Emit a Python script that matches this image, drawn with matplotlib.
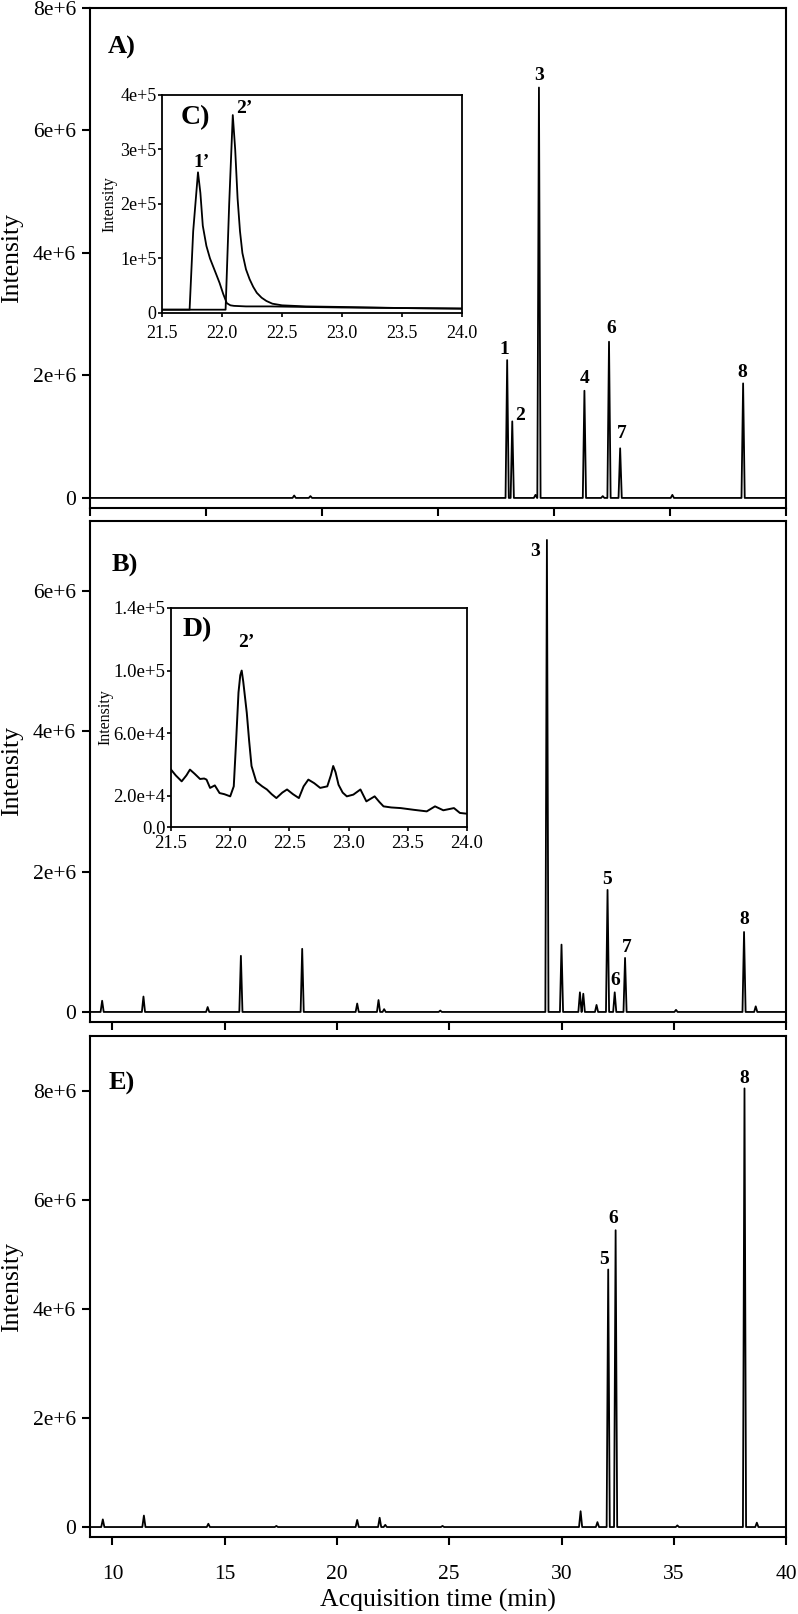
import matplotlib.pyplot as plt

plt.rcParams['font.family'] = ['Liberation Serif', 'DejaVu Serif']

# peak tables (time in min, intensity)
a_time = [18.8, 19.5, 27.98, 28.2, 29.2, 29.35, 31.31, 32.1, 32.37, 32.85, 35.1, 38.15]
a_height = [0.04e6, 0.03e6, 2.25e6, 1.25e6, 0.05e6, 6.70e6, 1.75e6, 0.03e6, 2.55e6, 0.81e6, 0.05e6, 1.87e6]

b_time = [9.54, 11.38, 14.24, 15.72, 18.45, 20.9, 21.85, 22.1, 24.6, 29.35, 30.0, 30.82, 30.97,
          31.56, 32.05, 32.37, 32.83, 35.1, 38.13, 38.65]
b_height = [0.16e6, 0.22e6, 0.07e6, 0.80e6, 0.90e6, 0.12e6, 0.17e6, 0.04e6, 0.02e6, 6.73e6, 0.96e6,
            0.28e6, 0.26e6, 0.10e6, 1.74e6, 0.28e6, 0.77e6, 0.03e6, 1.14e6, 0.08e6]

e_time = [9.57, 11.4, 14.27, 17.3, 20.9, 21.9, 22.15, 24.7, 30.85, 31.6, 32.08, 32.41, 35.16, 38.15, 38.7]
e_height = [0.14e6, 0.21e6, 0.06e6, 0.02e6, 0.13e6, 0.17e6, 0.04e6, 0.02e6, 0.29e6, 0.09e6, 4.72e6,
            5.44e6, 0.03e6, 8.04e6, 0.08e6]

# peak labels: (text, index into peak table, offset of label centre in pixels)
a_labels = [('1', 2, (-3, 11)), ('2', 3, (8, 6)), ('3', 5, (0, 12)), ('4', 6, (0, 12)),
            ('6', 8, (2, 13)), ('7', 9, (2, 15)), ('8', 11, (-1, 11))]
b_labels = [('3', 9, (-12, -12)), ('5', 14, (0, 10)), ('6', 15, (1, 12)),
            ('7', 16, (2, 10)), ('8', 18, (0, 12))]
e_labels = [('5', 10, (-4, 10)), ('6', 11, (-2, 12)), ('8', 13, (0, 10))]

# inset C: 1' and 2' traces
c1_time = [21.5, 21.73, 21.76, 21.80, 21.82, 21.84, 21.87, 21.90, 21.925, 21.95, 21.98, 22.01,
           22.04, 22.07, 22.10, 22.2, 22.4, 22.7, 23.0, 23.5, 24.0]
c1_int = [0.06e5, 0.06e5, 1.5e5, 2.58e5, 2.2e5, 1.6e5, 1.23e5, 1.0e5, 0.86e5, 0.72e5, 0.55e5, 0.35e5,
          0.18e5, 0.14e5, 0.13e5, 0.12e5, 0.12e5, 0.11e5, 0.10e5, 0.09e5, 0.08e5]
c2_time = [21.5, 22.03, 22.06, 22.09, 22.11, 22.13, 22.15, 22.17, 22.20, 22.23, 22.26, 22.29,
           22.33, 22.37, 22.42, 22.5, 22.7, 23.0, 23.5, 24.0]
c2_int = [0.06e5, 0.06e5, 2.0e5, 3.63e5, 3.0e5, 2.1e5, 1.5e5, 1.1e5, 0.8e5, 0.62e5, 0.48e5, 0.37e5,
          0.28e5, 0.22e5, 0.17e5, 0.14e5, 0.12e5, 0.11e5, 0.09e5, 0.08e5]

# inset D trace
d_time = [21.5, 21.54, 21.59, 21.63, 21.66, 21.70, 21.745, 21.78, 21.80, 21.83, 21.87, 21.91, 21.95,
          22.0, 22.03, 22.05, 22.07, 22.085, 22.097, 22.11, 22.125, 22.14, 22.16, 22.18, 22.22, 22.27,
          22.31, 22.35, 22.39, 22.44, 22.48, 22.53, 22.58, 22.62, 22.66, 22.71, 22.76, 22.82, 22.85,
          22.87, 22.89, 22.915, 22.95, 22.985, 23.04, 23.10, 23.15, 23.22, 23.26, 23.295, 23.36, 23.44,
          23.55, 23.66, 23.73, 23.80, 23.89, 23.94, 24.0]
d_int = [3.67e4, 3.3e4, 2.92e4, 3.3e4, 3.67e4, 3.4e4, 3.07e4, 3.1e4, 3.03e4, 2.5e4, 2.66e4, 2.17e4, 2.1e4,
         1.96e4, 2.6e4, 5.5e4, 8.6e4, 9.7e4, 1.0e5, 9.3e4, 8.3e4, 7.3e4, 5.5e4, 3.9e4, 2.9e4, 2.6e4,
         2.4e4, 2.1e4, 1.85e4, 2.2e4, 2.4e4, 2.1e4, 1.85e4, 2.6e4, 3.03e4, 2.8e4, 2.5e4, 2.6e4, 3.3e4,
         3.9e4, 3.5e4, 2.7e4, 2.2e4, 1.96e4, 2.07e4, 2.4e4, 1.64e4, 1.96e4, 1.6e4, 1.32e4, 1.25e4, 1.21e4,
         1.1e4, 1.0e4, 1.32e4, 1.07e4, 1.21e4, 0.9e4, 0.85e4]

main_ticks = [10, 15, 20, 25, 30, 35, 40]
a_yticks = [0, 2e6, 4e6, 6e6, 8e6]
a_ylabels = ['0', '2e+6', '4e+6', '6e+6', '8e+6']
b_yticks = [0, 2e6, 4e6, 6e6]
b_ylabels = ['0', '2e+6', '4e+6', '6e+6']
inset_xticks = [21.5, 22.0, 22.5, 23.0, 23.5, 24.0]
inset_xlabels = ['21.5', '22.0', '22.5', '23.0', '23.5', '24.0']
c_yticks = [0, 1e5, 2e5, 3e5, 4e5]
c_ylabels = ['0', '1e+5', '2e+5', '3e+5', '4e+5']
d_yticks = [0, 2e4, 6e4, 1e5, 1.4e5]
d_ylabels = ['0.0', '2.0e+4', '6.0e+4', '1.0e+5', '1.4e+5']


def trace(times, heights, start, stop, half=0.07):
    #turns a peak table into a spiky chromatogram line
    x = [start]
    y = [0]
    for t, h in zip(times, heights):
        x += [t - half, t, t + half]
        y += [0, h, 0]
    x.append(stop)
    y.append(0)
    return x, y


def style_main(ax):
    for s in ax.spines.values():
        s.set_linewidth(1.5)
    ax.tick_params(direction='out', length=6, width=1.5, labelsize=15.5, pad=4,
                   top=False, right=False)
    ax.set_ylabel('Intensity', fontsize=18.5)
    ax.yaxis.set_label_coords(-0.096, 0.5)


def style_inset(ax, yticks, ylabels, label_x, size, xpad):
    for s in ax.spines.values():
        s.set_linewidth(1.3)
    ax.set_xlim(21.5, 24.0)
    ax.set_xticks(inset_xticks)
    ax.set_xticklabels(inset_xlabels)
    ax.set_yticks(yticks)
    ax.set_yticklabels(ylabels)
    ax.tick_params(direction='out', length=3, width=1.2, labelsize=size, pad=1,
                   top=False, right=False)
    ax.tick_params(axis='x', pad=xpad)
    ax.set_ylabel('Intensity', fontsize=11.5)
    ax.yaxis.set_label_coords(label_x, 0.5)


def add_labels(ax, times, heights, labels, size=14):
    for text, i, off in labels:
        ax.annotate(text, xy=(times[i], heights[i]), xytext=off, textcoords='offset pixels',
                    ha='center', va='center', fontsize=size, fontweight='bold')


fig = plt.figure(figsize=(7.98, 16.14), dpi=100)

# panel A
axA = fig.add_axes([0.1128, 0.6853, 0.8722, 0.3098])
x, y = trace(a_time, a_height, 10, 40)
axA.plot(x, y, color='black', lw=1.3)
axA.set_xlim(10, 40)
axA.set_ylim(-0.163e6, 8e6)
axA.set_xticks(main_ticks)
axA.set_xticklabels([])
axA.set_yticks(a_yticks)
axA.set_yticklabels(a_ylabels)
style_main(axA)
add_labels(axA, a_time, a_height, a_labels)
axA.text(0.046, 0.92, 'A)', transform=axA.transAxes, ha='center', va='center',
         fontsize=19, fontweight='bold')

# panel B
axB = fig.add_axes([0.1128, 0.3668, 0.8722, 0.3104])
x, y = trace(b_time, b_height, 9, 40)
axB.plot(x, y, color='black', lw=1.3)
axB.set_xlim(9, 40)
axB.set_ylim(-0.143e6, 7e6)
axB.set_xticks(main_ticks)
axB.set_xticklabels([])
axB.set_yticks(b_yticks)
axB.set_yticklabels(b_ylabels)
style_main(axB)
add_labels(axB, b_time, b_height, b_labels)
axB.text(0.05, 0.912, 'B)', transform=axB.transAxes, ha='center', va='center',
         fontsize=19, fontweight='bold')

# panel E
axE = fig.add_axes([0.1128, 0.0477, 0.8722, 0.3104])
x, y = trace(e_time, e_height, 9, 40)
axE.plot(x, y, color='black', lw=1.3)
axE.set_xlim(9, 40)
axE.set_ylim(-0.183e6, 9e6)
axE.set_xticks(main_ticks)
axE.set_xticklabels([str(t) for t in main_ticks])
axE.set_yticks(a_yticks)
axE.set_yticklabels(a_ylabels)
style_main(axE)
axE.tick_params(axis='x', pad=14)
axE.set_xlabel('Acquisition time (min)', fontsize=18.5)
axE.xaxis.set_label_coords(0.5, -0.104)
add_labels(axE, e_time, e_height, e_labels)
axE.text(0.045, 0.906, 'E)', transform=axE.transAxes, ha='center', va='center',
         fontsize=19, fontweight='bold')

# inset C
axC = fig.add_axes([0.2030, 0.8061, 0.3759, 0.1351])
axC.plot(c1_time, c1_int, color='black', lw=1.3)
axC.plot(c2_time, c2_int, color='black', lw=1.3)
axC.set_ylim(0, 4e5)
style_inset(axC, c_yticks, c_ylabels, -0.15, 13, 6)
axC.annotate('1\u2019', xy=(c1_time[3], c1_int[3]), xytext=(4, 10), textcoords='offset pixels',
             ha='center', va='center', fontsize=14, fontweight='bold')
axC.annotate('2\u2019', xy=(c2_time[3], c2_int[3]), xytext=(12, 7), textcoords='offset pixels',
             ha='center', va='center', fontsize=14, fontweight='bold')
axC.text(0.11, 0.894, 'C)', transform=axC.transAxes, ha='center', va='center',
         fontsize=20, fontweight='bold')

# inset D
axD = fig.add_axes([0.2143, 0.4876, 0.3709, 0.1357])
axD.plot(d_time, d_int, color='black', lw=1.4)
axD.set_ylim(0, 1.4e5)
style_inset(axD, d_yticks, d_ylabels, -0.196, 13.5, 3)
top = d_int.index(max(d_int))
axD.annotate('2\u2019', xy=(d_time[top], d_int[top]), xytext=(5, 28), textcoords='offset pixels',
             ha='center', va='center', fontsize=14, fontweight='bold')
axD.text(0.088, 0.90, 'D)', transform=axD.transAxes, ha='center', va='center',
         fontsize=20, fontweight='bold')

fig.savefig('out.png', dpi=100)
